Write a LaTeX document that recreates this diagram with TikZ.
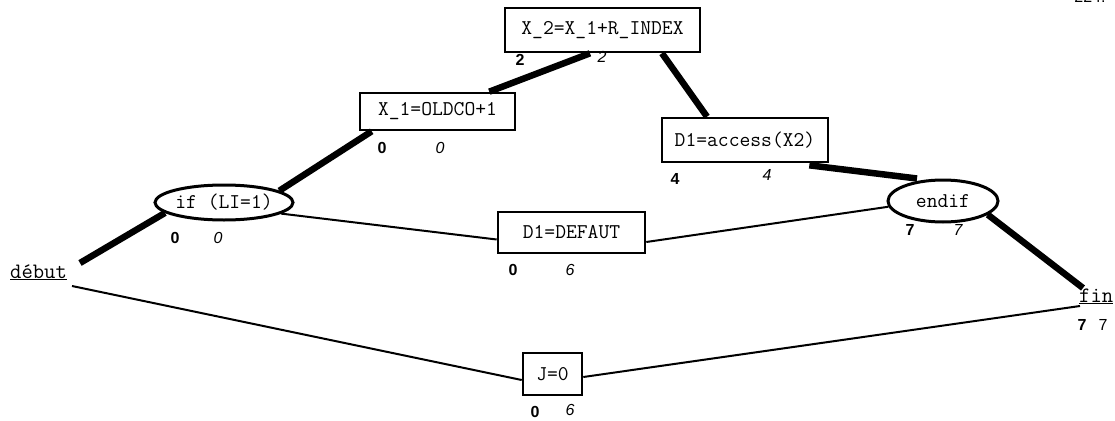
\documentclass[tikz,border=0pt]{standalone}
\usepackage{fontspec}
\setmainfont{Liberation Serif}
\newfontfamily\numfont{Liberation Sans}
\usetikzlibrary{shapes.geometric,calc}
\begin{document}
\begin{tikzpicture}[x=1pt,y=-1pt,
  box/.style={draw,line width=2.6pt,rectangle,inner sep=0pt,font=\ttfamily\fontsize{21}{24}\selectfont},
  oval/.style={draw,line width=3pt,ellipse,inner sep=0pt,font=\ttfamily\fontsize{21}{24}\selectfont},
  term/.style={inner sep=0pt,font=\ttfamily\fontsize{22}{24}\selectfont},
  thick edge/.style={line width=6.5pt},
  thin edge/.style={line width=2pt},
  bnum/.style={inner sep=0pt,font=\numfont\bfseries\fontsize{16}{18}\selectfont},
  inum/.style={inner sep=0pt,font=\numfont\itshape\fontsize{16}{18}\selectfont},
  rnum/.style={inner sep=0pt,font=\numfont\fontsize{16}{18}\selectfont}]
\useasboundingbox (0,0) rectangle (1115,420);
% nodes
\node[box,minimum width=195pt,minimum height=44pt] (x2) at (602.5,30) {X\_2=X\_1+R\_INDEX};
\node[box,minimum width=155pt,minimum height=37pt] (x1) at (437.5,111.5) {X\_1=OLDCO+1};
\node[box,minimum width=166pt,minimum height=44pt] (acc) at (745,140) {D1=access(X2)};
\node[oval,minimum width=138pt,minimum height=35pt] (ifn) at (224,202.5) {if (LI=1)};
\node[box,minimum width=147pt,minimum height=41pt] (def) at (571.5,232.5) {D1=DEFAUT};
\node[oval,minimum width=110pt,minimum height=42pt] (endif) at (943,201) {endif};
\node[box,minimum width=59pt,minimum height=42pt] (j) at (552.5,374) {J=0};
\node[term,anchor=base west] (debut) at (10,278) {\underline{début}};
\node[term,anchor=base west] (fin) at (1079,302) {\underline{fin}};
\node[rnum,anchor=south] (page) at (1090,3) {224.};
% free ends near début and fin
\coordinate (dbA) at (80,263);
\coordinate (dbB) at (72,286);
\coordinate (finA) at (1083,288);
\coordinate (finB) at (1080,306);
% connectors
\draw[thick edge] ([xshift=-12.5pt]x2.south) -- ([xshift=-27pt]x1.north east);
\draw[thick edge] ([xshift=59.5pt]x2.south) -- ([xshift=-38pt]acc.north);
\draw[thick edge] ([xshift=13pt]x1.south west) -- (ifn.12);
\draw[thick edge] (dbA) -- (ifn.190);
\draw[thick edge] ([xshift=-20pt,yshift=-2pt]acc.south east) -- ([xshift=-26pt]endif.north);
\draw[thick edge] (endif.-17) -- (finA);
\draw[thin edge] (ifn.-11) -- ([yshift=-7pt]def.west);
\draw[thin edge] ([yshift=-9.5pt]def.east) -- (endif.186);
\draw[thin edge] (dbB) -- ([yshift=-6pt]j.west);
\draw[thin edge] ([yshift=-3pt]j.east) -- (finB);
% numbers
\node[bnum] (x2a) at (520,60) {2};
\node[inum] (x2b) at (602,57) {2};
\node[bnum] (x1a) at (382,148) {0};
\node[inum] (x1b) at (440,148) {0};
\node[bnum] (acca) at (675,179) {4};
\node[inum] (accb) at (767,175) {4};
\node[bnum] (ifa) at (175,238) {0};
\node[inum] (ifb) at (218,238) {0};
\node[bnum] (defa) at (513,270) {0};
\node[inum] (defb) at (570,270) {6};
\node[bnum] (enda) at (910,230) {7};
\node[inum] (endb) at (958,230) {7};
\node[bnum] (fina) at (1082,325) {7};
\node[rnum] (finb) at (1103,325) {7};
\node[bnum] (ja) at (535,412) {0};
\node[inum] (jb) at (570,410) {6};
\end{tikzpicture}
\end{document}
